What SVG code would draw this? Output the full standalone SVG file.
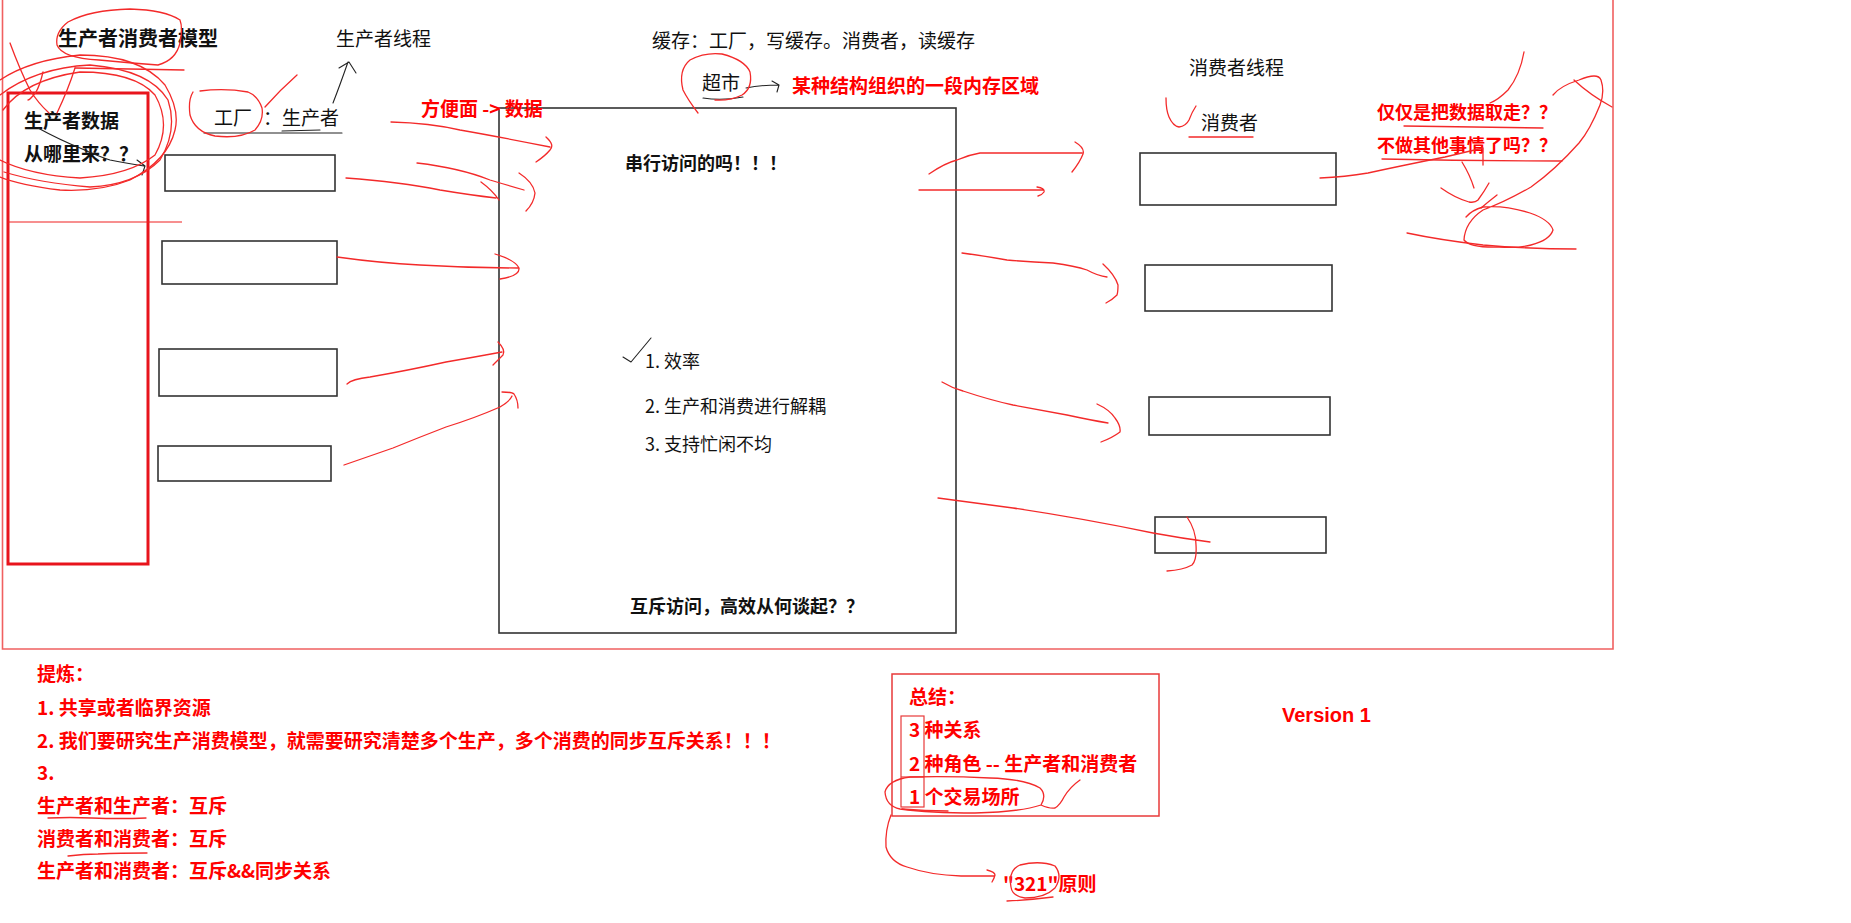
<svg xmlns="http://www.w3.org/2000/svg" width="1851" height="923" viewBox="0 0 1851 923">
<defs>
<style>
text{font-family:"Noto Sans CJK SC","Microsoft YaHei",sans-serif;}
.t{font-size:19px;fill:#111;}
.tb{font-size:18px;font-weight:bold;fill:#111;}
.rb{font-size:19px;font-weight:bold;fill:#f00;}
.box{fill:#fff;stroke:#333;stroke-width:1.6;}
.hand{fill:none;stroke:#f32a2a;stroke-width:1.3;stroke-linecap:round;stroke-linejoin:round;}
.ink{fill:none;stroke:#222;stroke-width:1.1;stroke-linecap:round;stroke-linejoin:round;}
</style>
</defs>
<rect width="1851" height="923" fill="#fff"/>
<g id="frame">
<path d="M2.5 0 V649 H1613 V0" fill="none" stroke="#f06060" stroke-width="1.6"/>
</g>
<g id="title">
<text x="58" y="46" style="font-size:20px;font-weight:bold;fill:#111">生产者消费者模型</text>
</g>
<g id="producer-source">
<rect x="8" y="93" width="140" height="471" fill="none" stroke="#e8141c" stroke-width="3"/>
<line x1="8" y1="222" x2="182" y2="222" stroke="#f02020" stroke-width="1.2"/>
<text x="24" y="128" class="tb" style="font-size:19px">生产者数据</text>
<text x="24" y="161" class="tb" style="font-size:19px">从哪里来？？</text>
</g>
<g id="producer-thread-label">
<text x="336" y="46" class="t">生产者线程</text>
</g>
<g id="producer-label">
<text x="214" y="125" class="t">工厂</text>
<text x="263" y="125" class="t">：生产者</text>
<path d="M204 133 H342 M282 131 L320 130" class="ink"/>
</g>
<g id="producer-1"><rect x="165" y="155" width="170" height="36" class="box"/></g>
<g id="producer-2"><rect x="162" y="241" width="175" height="43" class="box"/></g>
<g id="producer-3"><rect x="159" y="349" width="178" height="47" class="box"/></g>
<g id="producer-4"><rect x="158" y="446" width="173" height="35" class="box"/></g>
<g id="buffer">
<rect x="499" y="108" width="457" height="525" class="box"/>
<text x="625" y="170" class="tb">串行访问的吗！！！</text>
<text x="645" y="368" class="t" style="font-size:18px">1. 效率</text>
<text x="645" y="413" class="t" style="font-size:18px">2. 生产和消费进行解耦</text>
<text x="645" y="451" class="t" style="font-size:18px">3. 支持忙闲不均</text>
<text x="630" y="613" class="tb">互斥访问，高效从何谈起？？</text>
<path d="M623 357 L631 362 L651 338" class="ink"/>
</g>
<g id="cache-note">
<text x="652" y="48" class="t">缓存：工厂，写缓存。消费者，读缓存</text>
</g>
<g id="supermarket">
<text x="702" y="90" class="t">超市</text>
<path d="M703 98 Q722 101 743 97" class="ink"/>
<text x="792" y="93" class="rb">某种结构组织的一段内存区域</text>
</g>
<g id="noodle-note">
<text x="421" y="116" class="rb">方便面 -&gt; 数据</text>
</g>
<g id="consumer-thread-label">
<text x="1189" y="75" class="t">消费者线程</text>
</g>
<g id="consumer-label">
<text x="1201" y="130" class="t">消费者</text>
</g>
<g id="consumer-1"><rect x="1140" y="153" width="196" height="52" class="box"/></g>
<g id="consumer-2"><rect x="1145" y="265" width="187" height="46" class="box"/></g>
<g id="consumer-3"><rect x="1149" y="397" width="181" height="38" class="box"/></g>
<g id="consumer-4"><rect x="1155" y="517" width="171" height="36" class="box"/></g>
<g id="question-note">
<text x="1377" y="119" class="rb" style="font-size:18px">仅仅是把数据取走？？</text>
<text x="1377" y="152" class="rb" style="font-size:18px">不做其他事情了吗？？</text>
</g>
<g id="refine-note">
<text x="37" y="681" class="rb">提炼：</text>
<text x="37" y="715" class="rb">1. 共享或者临界资源</text>
<text x="37" y="748" class="rb">2. 我们要研究生产消费模型，就需要研究清楚多个生产，多个消费的同步互斥关系！！！</text>
<text x="37" y="780" class="rb">3.</text>
<text x="37" y="813" class="rb">生产者和生产者：互斥</text>
<text x="37" y="846" class="rb">消费者和消费者：互斥</text>
<text x="37" y="878" class="rb">生产者和消费者：互斥&amp;&amp;同步关系</text>
</g>
<g id="summary">
<rect x="892" y="674" width="267" height="142" fill="none" stroke="#e83a3a" stroke-width="1.5"/>
<rect x="901" y="716" width="23" height="91" fill="none" stroke="#e83a3a" stroke-width="1.2"/>
<line x1="901" y1="777" x2="924" y2="777" stroke="#e83a3a" stroke-width="1.2"/>
<text x="909" y="704" class="rb">总结：</text>
<text x="909" y="737" class="rb">3 种关系</text>
<text x="909" y="771" class="rb">2 种角色 -- 生产者和消费者</text>
<text x="909" y="804" class="rb">1 个交易场所</text>
</g>
<g id="principle">
<text x="1003" y="891" class="rb">"321"原则</text>
</g>
<g id="version">
<text x="1282" y="722" style="font-family:'Liberation Sans',Arial,sans-serif;font-size:20px;font-weight:bold;fill:#f00">Version 1</text>
</g>
<g id="connectors">
<!-- black arrows -->
<path d="M333 103 Q340 85 348 62 M339 68 L349 62 L356 73" class="ink"/>
<path d="M38 128 Q60 140 80 148 Q100 157 110 160 Q125 163 144 166 M137 160 L145 166 L142 175" class="ink"/>
<path d="M746 88 Q760 85 779 85 M772 81 L779 85 L777 92" class="ink"/>
<!-- producer to buffer -->
<path d="M391 122 Q430 123 460 130 Q500 137 550 147 M546 137 Q555 145 550 150 Q545 156 536 162" class="hand"/>
<path d="M346 178 Q400 182 440 190 Q470 195 496 198 M417 163 Q460 168 490 180 Q510 186 524 190 M481 182 Q492 190 499 200 M519 173 Q533 182 535 193 Q534 203 526 211" class="hand"/>
<path d="M337 257 Q380 263 420 265 Q470 268 518 268 M495 254 Q515 260 519 268 Q520 276 500 279" class="hand"/>
<path d="M347 384 Q352 379 370 377 Q410 370 446 362 Q475 357 502 352 M498 342 Q506 350 503 355 Q498 360 493 365" class="hand"/>
<path d="M344 465 Q370 456 393 448 Q420 437 446 427 Q475 418 500 407 Q510 401 512 396 M502 392 Q512 392 514 394 Q518 400 518 408" class="hand"/>
<!-- buffer to consumers -->
<path d="M929 174 Q945 163 957 160 Q968 155 980 153 L1082 153 M1075 142 Q1085 148 1083 154 Q1080 162 1072 172" class="hand"/>
<path d="M919 190 H1043 M1037 187 Q1045 188 1044 192 Q1042 195 1038 196" class="hand"/>
<path d="M962 253 Q985 256 1007 260 Q1030 262 1053 263 Q1075 266 1087 270 Q1098 276 1107 277 M1103 264 Q1115 275 1118 285 Q1118 292 1117 295 Q1112 300 1106 303" class="hand"/>
<path d="M942 382 Q952 388 963 391 Q990 400 1013 405 Q1040 410 1067 415 Q1090 420 1108 423 M1097 404 Q1110 410 1115 418 Q1121 426 1120 432 Q1112 438 1101 442" class="hand"/>
<path d="M938 498 Q975 503 1013 508 Q1080 518 1153 533 Q1180 538 1210 542 M1187 517 Q1196 530 1196 545 Q1197 560 1192 565 Q1183 570 1167 571" class="hand"/>
<!-- question note -->
<path d="M1320 178 Q1345 177 1368 173 Q1400 166 1445 157 Q1470 151 1483 148 M1483 148 L1483 165" class="hand"/>
<path d="M1524 52 Q1520 75 1508 90 Q1498 100 1490 103" class="hand"/>
<path d="M1462 162 Q1470 175 1474 188 M1441 188 Q1455 198 1469 202 Q1475 203 1478 200 Q1484 192 1489 183" class="hand"/>
<path d="M1553 95 Q1560 86 1579 80 Q1598 72 1601 80 Q1605 92 1600 105 Q1590 130 1579 143 Q1555 170 1531 187 Q1505 202 1483 210 Q1465 222 1464 240 Q1470 248 1500 247 Q1520 248 1531 245 Q1550 240 1553 230 Q1550 220 1530 213 Q1505 205 1483 207 Q1472 210 1466 217" class="hand"/>
<path d="M1574 80 Q1590 95 1612 107" class="hand"/>
<path d="M1407 233 Q1440 240 1483 245 Q1530 249 1576 249" class="hand"/>
<path d="M1497 195 Q1488 202 1481 208" class="hand"/>
<path d="M1404 126 Q1470 127 1543 128 M1382 159 Q1470 161 1562 161" class="hand"/>
<!-- consumer label -->
<path d="M1166 98 Q1166 110 1169 117 Q1173 126 1179 127 Q1186 126 1189 120 Q1192 112 1196 106" class="hand"/>
<path d="M1189 137 H1253" class="hand"/>
<!-- supermarket circle -->
<path d="M698 113 Q688 100 683 90 Q678 70 690 60 Q705 52 722 54 Q745 60 750 72 Q753 88 742 95 Q730 101 715 100" class="hand"/>
<!-- factory circle -->
<path d="M193 92 Q188 100 190 115 Q195 132 215 136 Q240 139 255 130 Q264 120 262 108 Q258 96 248 92 Q225 88 200 91 M265 107 Q280 90 297 75" class="hand"/>
<!-- title loops -->
<path d="M180 20 Q165 10 130 9 Q90 10 68 22 Q55 32 57 45 Q62 58 99 60 Q130 63 158 65 Q176 60 180 43 Q183 28 180 20" class="hand"/>
<path d="M75 68 L184 70" class="hand"/>
<path d="M0 80 Q30 60 80 55 Q140 55 165 85 Q180 110 175 130 Q168 160 130 180 Q100 192 60 190 Q20 185 0 177" class="hand"/>
<path d="M0 95 Q35 68 90 65 Q150 70 168 100 Q178 130 160 160 Q135 185 90 187 Q40 183 4 172" class="hand"/>
<path d="M3 110 Q25 80 80 72 Q135 72 155 95 Q172 125 155 155 Q130 175 80 178 Q30 175 0 160" class="hand"/>
<path d="M10 43 Q20 70 30 90 Q38 103 49 113 M43 72 Q40 85 36 92 Q30 100 28 100 M75 68 Q68 90 57 113" class="hand"/>
<!-- refine underlines -->
<path d="M48 818 Q70 817 92 818 Q120 819 146 818" class="hand"/>
<path d="M68 856 Q84 854 98 854 Q120 853 147 853" class="hand"/>
<!-- summary annotations -->
<path d="M1041 805 Q1047 795 1040 788 Q1025 779 990 778 Q950 776 910 777 Q888 780 885 792 Q886 806 900 809 Q930 813 975 813 Q1020 812 1041 805 M1041 805 Q1050 809 1055 808 Q1060 805 1064 797 Q1070 787 1080 780" class="hand"/>
<path d="M902 809 Q925 811 948 811" class="hand"/>
<path d="M891 815 Q885 830 886 847 Q890 862 907 867 Q930 875 961 876 L994 876 M987 870 Q995 872 995 875 Q994 879 992 882" class="hand"/>
<path d="M1011 887 Q1008 870 1020 865 Q1040 860 1055 866 Q1063 876 1055 888 Q1045 898 1025 898 Q1012 896 1011 887 M1007 901 Q1030 900 1053 897" class="hand"/>
</g>
</svg>
